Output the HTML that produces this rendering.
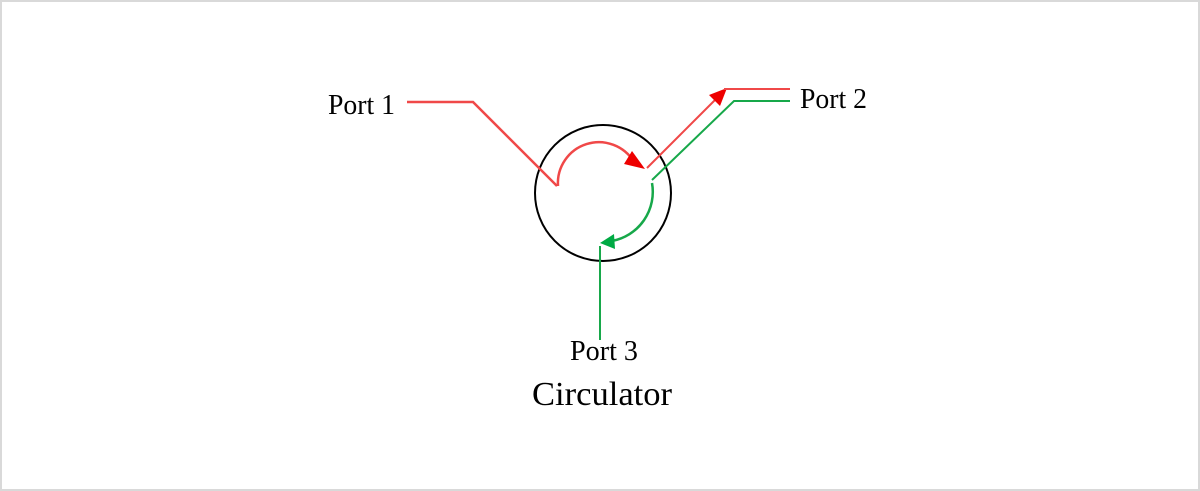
<!DOCTYPE html>
<html><head><meta charset="utf-8"><style>
html,body{margin:0;padding:0;background:#fff;}
svg{display:block;}
text{font-family:"Liberation Serif",serif;fill:#000;}
</style></head><body>
<svg width="1200" height="491" viewBox="0 0 1200 491" xmlns="http://www.w3.org/2000/svg">
<rect x="1" y="1" width="1198" height="489" fill="#fff" stroke="#d9d9d9" stroke-width="2"/>
<circle cx="603" cy="193" r="68" fill="none" stroke="#000" stroke-width="2"/>
<!-- red -->
<polyline points="407,102 473,102 557,186" fill="none" stroke="#f04848" stroke-width="2.5"/>
<path d="M558,186 A41,41 0 0 1 634,162" fill="none" stroke="#f04848" stroke-width="2.5"/>
<polygon points="645,169 632,151 624,164" fill="#ee0000"/>
<polyline points="647,168 718,97" fill="none" stroke="#f04848" stroke-width="2"/>
<polygon points="727,88 709,95 720,106" fill="#ee0000"/>
<polyline points="724,89 790,89" fill="none" stroke="#f04848" stroke-width="2"/>
<!-- green -->
<polyline points="790,101 734,101 652,180" fill="none" stroke="#17a84a" stroke-width="2"/>
<path d="M652,183 A50,50 0 0 1 612,241" fill="none" stroke="#17a84a" stroke-width="2.5"/>
<polygon points="600,243 614,234 615,249" fill="#00aa44"/>
<polyline points="600,246 600,340" fill="none" stroke="#17a84a" stroke-width="2"/>
<!-- labels -->
<text x="328" y="114" font-size="28" textLength="67" lengthAdjust="spacingAndGlyphs">Port 1</text>
<text x="800" y="108" font-size="28" textLength="67" lengthAdjust="spacingAndGlyphs">Port 2</text>
<text x="570" y="360" font-size="28" textLength="68" lengthAdjust="spacingAndGlyphs">Port 3</text>
<text x="532" y="405" font-size="34" textLength="140" lengthAdjust="spacingAndGlyphs">Circulator</text>
</svg>
</body></html>
